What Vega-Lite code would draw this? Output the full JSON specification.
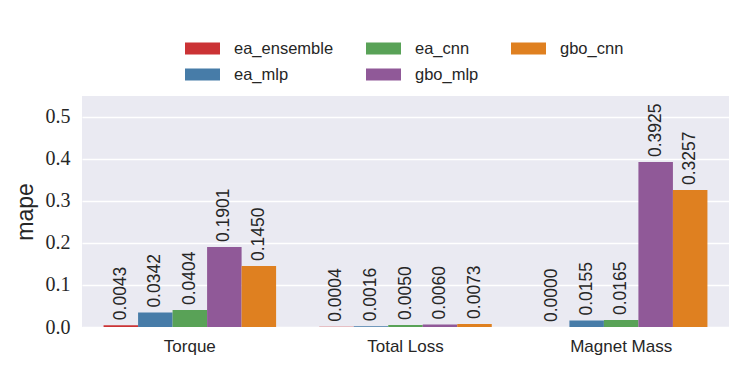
{
  "$schema": "https://vega.github.io/schema/vega-lite/v6.json",
  "width": 647,
  "height": 231,
  "autosize": "none",
  "padding": {"left": 82, "top": 96, "right": 18, "bottom": 47},
  "background": "white",
  "config": {
    "view": {"fill": "#EAEAF2", "stroke": null}
  },
  "data": {
    "values": [
      {"target": "Torque", "model": "ea_ensemble", "mape": 0.0043},
      {"target": "Torque", "model": "ea_mlp", "mape": 0.0342},
      {"target": "Torque", "model": "ea_cnn", "mape": 0.0404},
      {"target": "Torque", "model": "gbo_mlp", "mape": 0.1901},
      {"target": "Torque", "model": "gbo_cnn", "mape": 0.1450},
      {"target": "Total Loss", "model": "ea_ensemble", "mape": 0.0004},
      {"target": "Total Loss", "model": "ea_mlp", "mape": 0.0016},
      {"target": "Total Loss", "model": "ea_cnn", "mape": 0.0050},
      {"target": "Total Loss", "model": "gbo_mlp", "mape": 0.0060},
      {"target": "Total Loss", "model": "gbo_cnn", "mape": 0.0073},
      {"target": "Magnet Mass", "model": "ea_ensemble", "mape": 0.0000},
      {"target": "Magnet Mass", "model": "ea_mlp", "mape": 0.0155},
      {"target": "Magnet Mass", "model": "ea_cnn", "mape": 0.0165},
      {"target": "Magnet Mass", "model": "gbo_mlp", "mape": 0.3925},
      {"target": "Magnet Mass", "model": "gbo_cnn", "mape": 0.3257}
    ]
  },
  "encoding": {
    "x": {
      "field": "target", "type": "nominal",
      "sort": ["Torque", "Total Loss", "Magnet Mass"],
      "scale": {"paddingInner": 0.2, "paddingOuter": 0.1},
      "axis": {
        "title": null, "labelAngle": 0, "domain": false, "ticks": false, "grid": false,
        "labelFont": "Liberation Sans", "labelFontSize": 17, "labelColor": "#262626",
        "labelPadding": 11
      }
    },
    "xOffset": {
      "field": "model", "type": "nominal",
      "scale": {"domain": ["ea_ensemble", "ea_mlp", "ea_cnn", "gbo_mlp", "gbo_cnn"], "paddingInner": 0, "paddingOuter": 0}
    },
    "y": {
      "field": "mape", "type": "quantitative",
      "scale": {"domain": [0, 0.5495], "nice": false, "zero": true},
      "axis": {
        "title": "mape", "titleFont": "Liberation Sans", "titleFontSize": 23, "titleFontWeight": "normal",
        "titleColor": "#262626", "titlePadding": 8,
        "values": [0, 0.1, 0.2, 0.3, 0.4, 0.5], "format": ".1f",
        "labelFont": "Liberation Serif", "labelFontSize": 20, "labelColor": "#262626",
        "labelPadding": 12, "domain": false, "ticks": false,
        "grid": true, "gridColor": "white", "gridWidth": 1.6
      }
    }
  },
  "layer": [
    {
      "mark": {"type": "bar"},
      "encoding": {
        "color": {
          "field": "model", "type": "nominal",
          "scale": {
            "domain": ["ea_ensemble", "ea_cnn", "gbo_cnn", "ea_mlp", "gbo_mlp"],
            "range": ["#CB3335", "#59A257", "#DF8020", "#477CA8", "#905998"]
          },
          "legend": {
            "title": null, "orient": "none", "legendX": 103, "legendY": -65,
            "direction": "horizontal", "columns": 3, "padding": 0,
            "symbolType": "M-1,-0.34L1,-0.34L1,0.34L-1,0.34Z", "symbolSize": 1225,
            "symbolStrokeWidth": 0, "symbolOpacity": 1,
            "labelFont": "Liberation Sans", "labelFontSize": 16.5, "labelColor": "#262626",
            "labelOffset": 14, "columnPadding": 32, "rowPadding": -1
          }
        }
      }
    },
    {
      "mark": {"type": "text", "angle": 270, "align": "left", "baseline": "middle", "dx": 5,
               "font": "Liberation Sans", "fontSize": 17.5, "color": "#262626"},
      "encoding": {
        "text": {"field": "mape", "type": "quantitative", "format": ".4f"}
      }
    }
  ]
}
